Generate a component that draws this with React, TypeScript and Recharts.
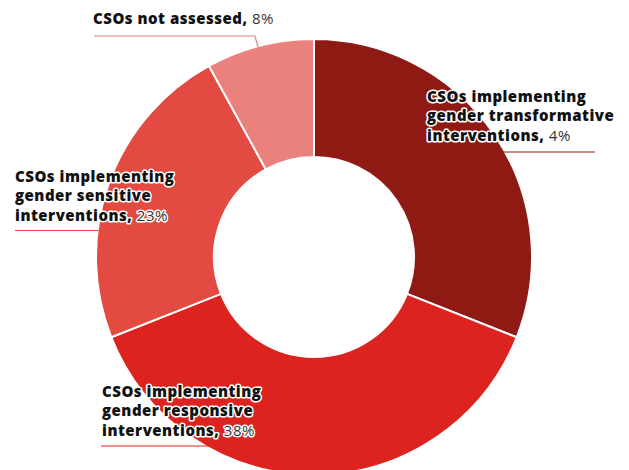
import React from 'react';
import { PieChart, Pie, Cell } from 'recharts';

const categories = [
  'CSOs implementing gender transformative interventions',
  'CSOs implementing gender responsive interventions',
  'CSOs implementing gender sensitive interventions',
  'CSOs not assessed',
];
// slice sizes
const shares = [31, 38, 23, 8];
// percentages as printed on the labels
const printedPercents = ['4%', '38%', '23%', '8%'];
const labelLines = [
  ['CSOs implementing', 'gender transformative', 'interventions'],
  ['CSOs implementing', 'gender responsive', 'interventions'],
  ['CSOs implementing', 'gender sensitive', 'interventions'],
  ['CSOs not assessed'],
];

const colors = ['#8e1a13', '#dc231f', '#e34a42', '#eb817d'];

const data = categories.map((name, i) => ({ name, value: shares[i] }));

// label placement relative to the pie centre
const labelPos = [
  { x: 113, y: -155, line: [[188, -105], [281, -105]] },
  { x: -212, y: 140, line: [[-213, 189], [-104, 189]] },
  { x: -299, y: -75, line: [[-299, -26.5], [-214, -26.5]] },
  { x: -221, y: -233, line: [[-220, -221], [-59, -221], [-56, -210]] },
];

const haloStyle: React.CSSProperties = {
  paintOrder: 'stroke',
  stroke: '#ffffff',
  strokeWidth: 3,
  strokeLinejoin: 'round',
};

const renderLabel = (props: any) => {
  const { cx, cy, index } = props;
  const pos = labelPos[index];
  const lines = labelLines[index];
  const pts = pos.line.map(([x, y]) => `${cx + x},${cy + y}`).join(' ');
  return (
    <g key={`lbl-${index}`}>
      <polyline points={pts} fill="none" stroke={colors[index]} strokeWidth={1.2} />
      <text
        x={cx + pos.x}
        y={cy + pos.y}
        fontFamily="'Open Sans', sans-serif"
        fontSize={15}
        fontWeight={800}
        letterSpacing={0.5}
        fill="#111111"
        style={haloStyle}
      >
        {lines.map((t, i) => (
          <tspan key={i} x={cx + pos.x} dy={i === 0 ? 0 : 19.3}>
            {t}
            {i === lines.length - 1 && (
              <>
                ,{' '}
                <tspan fontWeight={400} fill="#333333">
                  {printedPercents[index]}
                </tspan>
              </>
            )}
          </tspan>
        ))}
      </text>
    </g>
  );
};

export default function App() {
  return (
    <div style={{ width: 629, height: 470, background: '#ffffff' }}>
      <style>{'body{margin:0}'}</style>
      <PieChart width={629} height={470} margin={{ top: 0, right: 0, bottom: 0, left: 0 }}>
        <Pie
          data={data}
          dataKey="value"
          nameKey="name"
          cx={314}
          cy={257}
          innerRadius={100}
          outerRadius={218}
          startAngle={90}
          endAngle={-270}
          stroke="#ffffff"
          strokeWidth={2}
          label={renderLabel}
          labelLine={false}
          isAnimationActive={false}
        >
          {data.map((d, i) => (
            <Cell key={d.name} fill={colors[i]} />
          ))}
        </Pie>
      </PieChart>
    </div>
  );
}
